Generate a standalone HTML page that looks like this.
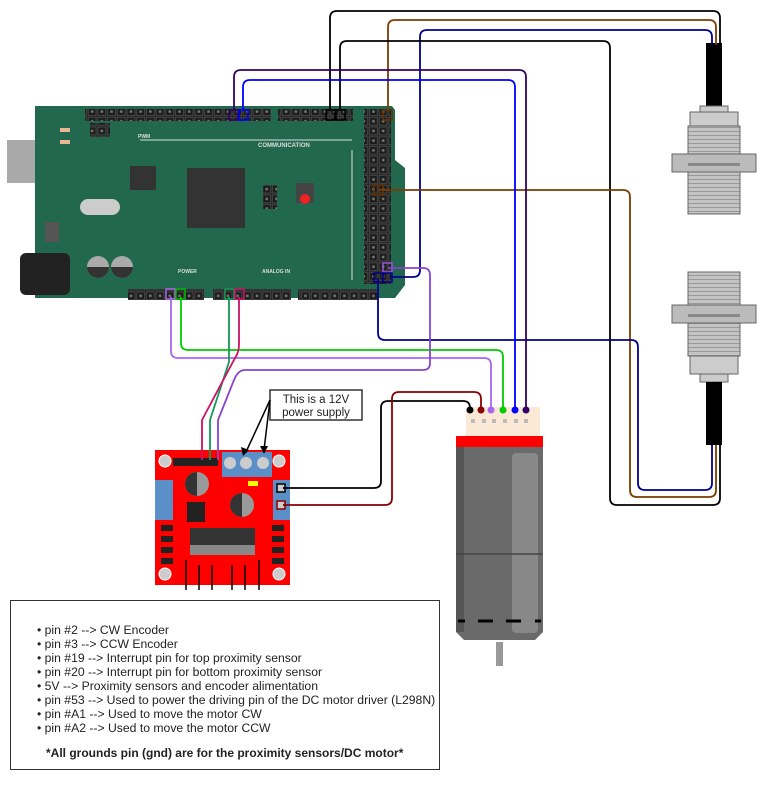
<!DOCTYPE html>
<html><head><meta charset="utf-8"><style>
body{margin:0;background:#fff;width:771px;height:801px;overflow:hidden}
svg{position:absolute;left:0;top:0}
.t{font-family:"Liberation Sans",sans-serif}
</style></head><body>
<svg width="771" height="801" viewBox="0 0 771 801" xmlns="http://www.w3.org/2000/svg">
<defs>
<pattern id="pins" x="0" y="0" width="9.7" height="9.7" patternUnits="userSpaceOnUse">
<rect width="9.7" height="9.7" fill="#2a2a2a"/><rect x="1" y="1" width="7.7" height="7.7" fill="#1c1c1c" stroke="#555" stroke-width="0.6"/><rect x="3.6" y="3.6" width="2.5" height="2.5" fill="#777"/>
</pattern>
<pattern id="thr" x="0" y="0" width="4" height="4" patternUnits="userSpaceOnUse">
<rect width="4" height="4" fill="#c4c4c4"/><line x1="0" y1="3.5" x2="4" y2="3.5" stroke="#999" stroke-width="1"/>
</pattern>
</defs>
<!-- Arduino -->
<rect x="7" y="140" width="56" height="43" fill="#a9a9a9"/>
<rect x="50" y="138" width="14" height="47" fill="#8a8a8a"/>
<path d="M35 106 H392 L395 110 V160 L405 168 V285 L395 298 H35 Z" fill="#21684f"/>
<rect x="20" y="253" width="50" height="42" rx="6" fill="#222"/>
<rect x="85" y="109" width="186" height="12" fill="url(#pins)"/>
<rect x="278" y="109" width="75" height="12" fill="url(#pins)"/>
<rect x="364" y="109" width="27" height="175" fill="url(#pins)"/>
<rect x="128" y="289" width="76" height="11" fill="url(#pins)"/>
<rect x="213" y="289" width="78" height="11" fill="url(#pins)"/>
<rect x="298" y="289" width="80" height="11" fill="url(#pins)"/>
<rect x="90" y="123" width="20" height="14" fill="url(#pins)"/>
<rect x="187" y="168" width="58" height="60" fill="#333"/>
<rect x="130" y="166" width="26" height="24" fill="#333"/>
<rect x="80" y="199" width="40" height="16" rx="8" fill="#ccc"/>
<rect x="263" y="185" width="14" height="24" fill="url(#pins)"/>
<rect x="296" y="183" width="18" height="20" fill="#444"/><circle cx="305" cy="199" r="5" fill="#e22"/>
<circle cx="98" cy="267" r="11" fill="#aaa"/><circle cx="122" cy="267" r="11" fill="#aaa"/>
<path d="M87 267 A11 11 0 0 0 109 267 Z M111 267 A11 11 0 0 0 133 267 Z" fill="#333"/>
<rect x="60" y="128" width="10" height="4" fill="#e8b890"/>
<rect x="60" y="140" width="10" height="4" fill="#e8b890"/>
<rect x="45" y="222" width="14" height="20" fill="#555"/>
<line x1="140" y1="140" x2="352" y2="140" stroke="#ddd" stroke-width="1"/>
<line x1="352" y1="150" x2="352" y2="280" stroke="#ddd" stroke-width="1"/>
<text class="t" x="258" y="147" font-size="6" fill="#ddd" font-weight="bold">COMMUNICATION</text>
<text class="t" x="178" y="273" font-size="5" fill="#ddd" font-weight="bold">POWER</text>
<text class="t" x="262" y="273" font-size="5" fill="#ddd" font-weight="bold">ANALOG IN</text>
<text class="t" x="138" y="138" font-size="5" fill="#ddd" font-weight="bold">PWM</text>
<!-- pin highlights -->
<g fill="none" stroke-width="1.5">
<rect x="229" y="110" width="9" height="10" stroke="#330066"/>
<rect x="239" y="110" width="9" height="10" stroke="#0000ff"/>
<rect x="326" y="110" width="9" height="10" stroke="#000"/>
<rect x="336" y="110" width="9" height="10" stroke="#000"/>
<rect x="383" y="110" width="9" height="10" stroke="#663300"/>
<rect x="374" y="185" width="9" height="10" stroke="#663300"/>
<rect x="383" y="263" width="9" height="9" stroke="#9955dd"/>
<rect x="374" y="273" width="9" height="9" stroke="#000088"/>
<rect x="383" y="273" width="9" height="9" stroke="#000088"/>
<rect x="166" y="289" width="9" height="10" stroke="#aa66ee"/>
<rect x="176" y="289" width="9" height="10" stroke="#00bb00"/>
<rect x="225" y="289" width="9" height="10" stroke="#119955"/>
<rect x="235" y="289" width="9" height="10" stroke="#cc1166"/>
</g>
<!-- sensors -->
<rect x="706" y="43" width="16" height="63" fill="#000"/>
<rect x="700" y="106" width="28" height="6" fill="#ccc" stroke="#666"/>
<rect x="690" y="112" width="48" height="14" fill="#ccc" stroke="#666"/>
<rect x="688" y="126" width="52" height="88" fill="url(#thr)" stroke="#666"/>
<rect x="672" y="154" width="84" height="18" fill="#bbb" stroke="#666"/>
<rect x="688" y="163" width="52" height="3" fill="#888"/>
<rect x="688" y="272" width="52" height="84" fill="url(#thr)" stroke="#666"/>
<rect x="672" y="305" width="84" height="18" fill="#bbb" stroke="#666"/>
<rect x="688" y="314" width="52" height="3" fill="#888"/>
<rect x="690" y="356" width="48" height="18" fill="#ccc" stroke="#666"/>
<rect x="700" y="374" width="28" height="8" fill="#ccc" stroke="#666"/>
<rect x="706" y="382" width="16" height="63" fill="#000"/>
<!-- motor -->
<rect x="466" y="407" width="74" height="29" fill="#fbe9d5"/>
<g fill="#bbb"><rect x="471" y="419" width="4" height="4"/><rect x="482" y="419" width="4" height="4"/><rect x="492" y="419" width="4" height="4"/><rect x="503" y="419" width="4" height="4"/><rect x="514" y="419" width="4" height="4"/><rect x="524" y="419" width="4" height="4"/></g>
<rect x="456" y="436" width="87" height="11" fill="#f00"/>
<path d="M456 447 H543 V632 L535 640 H464 L456 632 Z" fill="#6a6a6a"/>
<rect x="456" y="447" width="8" height="185" fill="#555"/>
<rect x="512" y="453" width="26" height="180" rx="4" fill="#888"/>
<line x1="456" y1="554" x2="543" y2="554" stroke="#444" stroke-width="1.5"/>
<g stroke="#000" stroke-width="3"><line x1="458" y1="621" x2="465" y2="621"/><line x1="478" y1="621" x2="493" y2="621"/><line x1="506" y1="621" x2="521" y2="621"/><line x1="535" y1="621" x2="541" y2="621"/></g>
<rect x="496" y="642" width="7" height="24" fill="#999"/>
<!-- L298N -->
<rect x="155" y="450" width="135" height="135" fill="#f00"/>
<rect x="222" y="452" width="50" height="25" fill="#5b8fc8"/>
<circle cx="230" cy="463" r="6" fill="#ccc"/><circle cx="246" cy="463" r="6" fill="#ccc"/><circle cx="263" cy="463" r="6" fill="#ccc"/>
<rect x="155" y="480" width="18" height="40" fill="#5b8fc8"/>
<rect x="273" y="480" width="17" height="40" fill="#5b8fc8"/>
<circle cx="165" cy="461" r="6" fill="#ccc" stroke="#fff"/><circle cx="279" cy="461" r="6" fill="#ccc" stroke="#fff"/>
<circle cx="165" cy="574" r="6" fill="#ccc" stroke="#fff"/><circle cx="279" cy="574" r="6" fill="#ccc" stroke="#fff"/>
<rect x="173" y="458" width="45" height="8" fill="#222"/>
<circle cx="197" cy="484" r="12" fill="#999"/><circle cx="242" cy="505" r="12" fill="#999"/>
<path d="M197 472 A12 12 0 0 0 197 496 Z M242 493 A12 12 0 0 0 242 517 Z" fill="#333"/>
<rect x="187" y="502" width="18" height="20" fill="#222"/>
<rect x="248" y="481" width="10" height="5" fill="#ff0"/>
<rect x="190" y="528" width="65" height="22" fill="#333"/>
<rect x="190" y="545" width="65" height="10" fill="#888"/>
<g fill="#222"><rect x="161" y="525" width="12" height="6"/><rect x="161" y="536" width="12" height="6"/><rect x="161" y="547" width="12" height="6"/><rect x="161" y="558" width="12" height="6"/><rect x="272" y="525" width="12" height="6"/><rect x="272" y="536" width="12" height="6"/><rect x="272" y="547" width="12" height="6"/><rect x="272" y="558" width="12" height="6"/></g>
<g stroke="#000" stroke-width="1.5"><line x1="186" y1="560" x2="186" y2="590"/><line x1="199" y1="565" x2="199" y2="590"/><line x1="212" y1="565" x2="212" y2="590"/><line x1="232" y1="565" x2="232" y2="590"/><line x1="245" y1="565" x2="245" y2="590"/><line x1="259" y1="560" x2="259" y2="590"/></g>
<rect x="277" y="484" width="8" height="8" fill="#ccc" stroke="#000" stroke-width="1.5"/>
<rect x="277" y="501" width="8" height="8" fill="#ccc" stroke="#880000" stroke-width="1.5"/>
<!-- wires -->
<g fill="none" stroke-width="1.8" stroke-linejoin="round">
<path d="M330 110 V18 Q330 11 337 11 H713 Q720 11 720 18 V45" stroke="#000"/>
<path d="M388 110 V27 Q388 20 395 20 H709 Q716 20 716 27 V45" stroke="#7a3d00"/>
<path d="M390 277 H413 Q420 277 420 270 V37 Q420 30 427 30 H705 Q712 30 712 37 V45" stroke="#000088"/>
<path d="M340 110 V48 Q340 41 347 41 H603 Q610 41 610 48 V498 Q610 505 617 505 H713 Q720 505 720 498 V445" stroke="#000"/>
<path d="M378 190 H623 Q630 190 630 197 V490 Q630 497 637 497 H709 Q716 497 716 490 V445" stroke="#7a3d00"/>
<path d="M378 278 V333 Q378 340 385 340 H631 Q638 340 638 347 V483 Q638 490 645 490 H705 Q712 490 712 483 V445" stroke="#000088"/>
<path d="M234 110 V77 Q234 70 241 70 H519 Q526 70 526 77 V410" stroke="#330066"/>
<path d="M243 110 V87 Q243 80 250 80 H508 Q515 80 515 87 V410" stroke="#0000ff"/>
<path d="M181 297 V343 Q181 350 188 350 H496 Q503 350 503 357 V410" stroke="#00cc00"/>
<path d="M171 297 V351 Q171 358 178 358 H484 Q491 358 491 365 V410" stroke="#aa66ee"/>
<path d="M388 268 H423 Q430 268 430 275 V363 Q430 370 423 370 H245 Q238 370 234 380 L218 420 V460" stroke="#8844cc"/>
<path d="M229 297 V362 L210 420 V460" stroke="#119955"/>
<path d="M239 297 V345 Q239 352 235 358 L202 420 V460" stroke="#cc1166"/>
<path d="M470 410 V408 Q470 401 463 401 H388 Q381 401 381 408 V481 Q381 488 374 488 H283" stroke="#000"/>
<path d="M481 410 V399 Q481 392 474 392 H399 Q392 392 392 399 V498 Q392 505 385 505 H283" stroke="#880000"/>
</g>
<g><circle cx="470" cy="410" r="3.5" fill="#000"/><circle cx="481" cy="410" r="3.5" fill="#880000"/><circle cx="491" cy="410" r="3.5" fill="#aa66ee"/><circle cx="503" cy="410" r="3.5" fill="#00cc00"/><circle cx="515" cy="410" r="3.5" fill="#0000ff"/><circle cx="526" cy="410" r="3.5" fill="#330066"/></g>
<!-- callout -->
<rect x="270" y="390" width="92" height="30" fill="#fff" stroke="#333" stroke-width="1.5"/>
<text class="t" x="316" y="403" font-size="11.5" text-anchor="middle" fill="#222">This is a 12V</text>
<text class="t" x="316" y="416" font-size="11.5" text-anchor="middle" fill="#222">power supply</text>
<g stroke="#000" stroke-width="1.5"><line x1="270" y1="400" x2="246" y2="452"/><line x1="270" y1="400" x2="264" y2="450"/></g>
<path d="M243 456 L241 447 L249 450 Z M264 454 L260 446 L268 446 Z" fill="#000"/>
<!-- legend -->
<rect x="10.5" y="600.5" width="429" height="169" fill="#fff" stroke="#333"/>
<g class="t" font-size="12.2" fill="#222">
<text x="37" y="634">•  pin #2 --&gt; CW Encoder</text>
<text x="37" y="648">•  pin #3 --&gt; CCW Encoder</text>
<text x="37" y="662">•  pin #19 --&gt; Interrupt pin for top proximity sensor</text>
<text x="37" y="676">•  pin #20 --&gt; Interrupt pin for bottom proximity sensor</text>
<text x="37" y="690">•  5V --&gt; Proximity sensors and encoder alimentation</text>
<text x="37" y="704">•  pin #53 --&gt; Used to power the driving pin of the DC motor driver (L298N)</text>
<text x="37" y="718">•  pin #A1 --&gt; Used to move the motor CW</text>
<text x="37" y="732">•  pin #A2 --&gt; Used to move the motor CCW</text>
<text x="46" y="757" font-weight="bold" font-size="12">*All grounds pin (gnd) are for the proximity sensors/DC motor*</text>
</g>
</svg>
</body></html>
